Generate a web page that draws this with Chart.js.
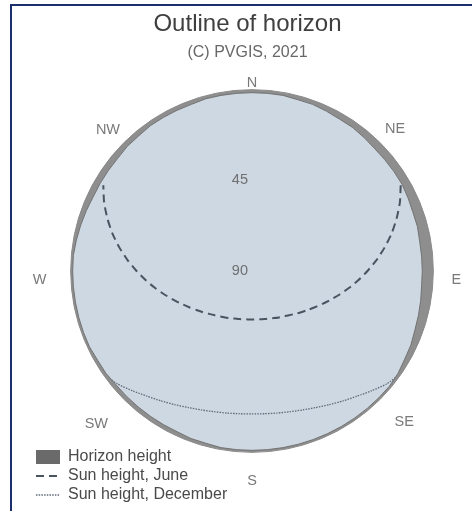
<!DOCTYPE html>
<html>
<head>
<meta charset="utf-8">
<title>Outline of horizon</title>
<script src="https://cdn.jsdelivr.net/npm/chart.js@4.4.1/dist/chart.umd.min.js"></script>
<style>
  html, body { margin: 0; padding: 0; background: #fff; width: 472px; height: 511px; overflow: hidden; }
  #frame { position: absolute; left: 10px; top: 4px; width: 600px; height: 600px;
           border-top: 2px solid #1a2f6c; border-left: 2px solid #1a2f6c; }
  #wrap { position: absolute; left: 0; top: 0; width: 472px; height: 511px; }
</style>
</head>
<body>
<div id="frame"></div>
<div id="wrap"><canvas id="horizonChart"></canvas></div>
<script>
// azimuth of each spoke, degrees from north, clockwise
const azimuths = [
  0, 5, 10, 15, 20, 25, 30, 35, 40, 45, 50, 55, 60, 65, 70, 75, 80, 85,
  90, 95, 100, 105, 110, 115, 120, 125, 130, 135, 140, 145, 150, 155, 160, 165, 170, 175,
  180, 185, 190, 195, 200, 205, 210, 215, 220, 225, 230, 235, 240, 245, 250, 255, 260, 265,
  270, 275, 280, 285, 290, 295, 300, 305, 310, 315, 320, 325, 330, 335, 340, 345, 350, 355
];
const compassAzimuths = [0, 45, 90, 135, 180, 225, 270, 315];
const compassLabels = ['N', 'NE', 'E', 'SE', 'S', 'SW', 'W', 'NW'];
const elevationTicks = [45, 90];

// elevation in degrees
const horizonHeight = [
  1.5, 1.5, 1.5, 2, 2, 2.5, 3, 3, 3.5, 4,
  4, 4, 4, 4.5, 5, 5, 5.5, 5.5, 5.5, 5.5,
  5, 4.5, 4, 3, 2.5, 1.5, 1, 1, 1, 1,
  1, 1, 1, 1, 1, 1, 1, 1, 1, 1.5,
  1.5, 2, 2, 2, 2, 2, 2, 1.5, 1.5, 1,
  1, 1, 1, 1, 1, 1, 1.5, 2, 2.5, 3,
  3, 3, 3, 2.5, 2.5, 2, 2, 2, 2, 1.5,
  1.5, 1.5
];
const sunJune = [
  null, null, null, null, null, null, null, null, null, null, null, null,
  4.8, 9.0, 13.6, 18.3, 23.2, 28.0, 32.7, 37.1, 41.2, 45.0, 48.4, 51.4, 54.0,
  56.3, 58.2, 59.9, 61.3, 62.5, 63.4, 64.2, 64.9, 65.3, 65.7, 65.9,
  65.9,
  65.9, 65.7, 65.3, 64.9, 64.2, 63.4, 62.5, 61.3, 59.9, 58.2, 56.3,
  54.0, 51.4, 48.4, 45.0, 41.2, 37.1, 32.7, 28.0, 23.2, 18.3, 13.6, 9.0, 4.8,
  null, null, null, null, null, null, null, null, null, null, null
];
const sunDecember = [
  null, null, null, null, null, null, null, null, null, null, null, null, null,
  null, null, null, null, null, null, null, null, null, null, null, null,
  0.5, 2.8, 6.0, 8.9, 11.3, 13.4, 15.2, 16.6, 17.7, 18.4, 18.9,
  19.1,
  18.9, 18.4, 17.7, 16.6, 15.2, 13.4, 11.3, 8.9, 6.0, 2.8, 0.5,
  null, null, null, null, null, null, null, null, null, null, null, null,
  null, null, null, null, null, null, null, null, null, null, null, null
];

// distance of each compass label from the rim (layout only)
const compassPadding = [-9, -0.5, 11, 13, 13, 15, 17, -2];

Chart.defaults.font.family = "'Liberation Sans', Arial, Helvetica, sans-serif";

// put the legend in the lower left corner without taking room from the dial
const legendCorner = {
  id: 'legendCorner',
  afterLayout(chart) {
    const lg = chart.legend;
    if (!lg) return;
    lg.left = 33;
    lg.top = 446;
    lg.right = lg.left + lg.width;
    lg.bottom = lg.top + 80;
  }
};

const compassIndex = (i) => compassAzimuths.indexOf(azimuths[i]);

new Chart(document.getElementById('horizonChart'), {
  type: 'radar',
  data: {
    labels: azimuths,
    datasets: [
      {
        label: 'Horizon height',
        data: horizonHeight,
        fill: 'end',
        backgroundColor: '#8e8e8e',
        borderColor: '#717171',
        borderWidth: 1,
        pointRadius: 0,
        pointStyle: 'rect'
      },
      {
        label: 'Sun height, June',
        data: sunJune,
        fill: false,
        borderColor: '#4a5461',
        borderWidth: 2,
        borderDash: [8, 5],
        pointRadius: 0,
        pointStyle: 'line',
        tension: 0.2
      },
      {
        label: 'Sun height, December',
        data: sunDecember,
        fill: false,
        borderColor: '#5f6a77',
        borderWidth: 1.3,
        borderDash: [1.5, 1.2],
        pointRadius: 0,
        pointStyle: 'line',
        tension: 0.2
      },
      {
        label: 'Sky',
        data: horizonHeight,
        fill: 'start',
        backgroundColor: '#cdd8e2',
        borderColor: 'rgba(0,0,0,0)',
        borderWidth: 0,
        pointRadius: 0
      }
    ]
  },
  options: {
    responsive: true,
    maintainAspectRatio: false,
    animation: false,
    events: [],
    layout: { padding: { top: 0, left: 26, right: 3, bottom: 10 } },
    scales: {
      r: {
        min: 0,
        max: 90,
        reverse: true,
        angleLines: { display: false },
        grid: {
          display: true,
          circular: true,
          z: 1,
          color: (ctx) => (ctx.tick && ctx.tick.value === 0) ? '#8a8a8a' : 'rgba(0,0,0,0)'
        },
        ticks: {
          stepSize: 45,
          z: 1,
          showLabelBackdrop: false,
          backdropPadding: 0,
          color: '#707070',
          font: { size: 14.5 },
          callback: (v) => elevationTicks.includes(v) ? v + '\u00a0'.repeat(6) : ''
        },
        pointLabels: {
          color: '#7a7a7a',
          font: (ctx) => ({ size: compassIndex(ctx.index) < 0 ? 1 : 14.5 }),
          padding: (ctx) => {
            const k = compassIndex(ctx.index);
            return k < 0 ? 0 : compassPadding[k];
          },
          callback: (label, i) => {
            const k = compassIndex(i);
            if (k < 0) return '';
            const name = compassLabels[k];
            return (name === 'E' || name === 'W') ? ['', name] : name;
          }
        }
      }
    },
    plugins: {
      title: {
        display: true,
        text: 'Outline of horizon',
        color: '#3f3f3f',
        font: { size: 24, weight: 'normal' },
        padding: { top: 9.6, bottom: 0 }
      },
      subtitle: {
        display: true,
        text: '(C) PVGIS, 2021',
        color: '#686868',
        font: { size: 16, weight: 'normal' },
        padding: { top: 5, bottom: 1.4 }
      },
      tooltip: { enabled: false },
      legend: {
        position: 'chartArea',
        align: 'start',
        labels: {
          usePointStyle: true,
          pointStyleWidth: 24,
          boxHeight: 14,
          padding: 3,
          color: '#4a4a4a',
          font: { size: 16 },
          filter: (item) => item.datasetIndex !== 3,
          generateLabels: (chart) => {
            const items = Chart.defaults.plugins.legend.labels.generateLabels(chart);
            return items.map((item) => {
              const ds = chart.data.datasets[item.datasetIndex];
              item.pointStyle = ds.pointStyle;
              if (item.datasetIndex === 0) {
                item.fillStyle = '#6a6a6a';
                item.strokeStyle = '#6a6a6a';
                item.lineWidth = 0;
                item.lineDash = [];
              } else {
                item.strokeStyle = ds.borderColor;
                item.lineWidth = ds.borderWidth;
                item.lineDash = ds.borderDash;
              }
              return item;
            });
          }
        }
      }
    }
  },
  plugins: [legendCorner]
});
</script>
</body>
</html>
